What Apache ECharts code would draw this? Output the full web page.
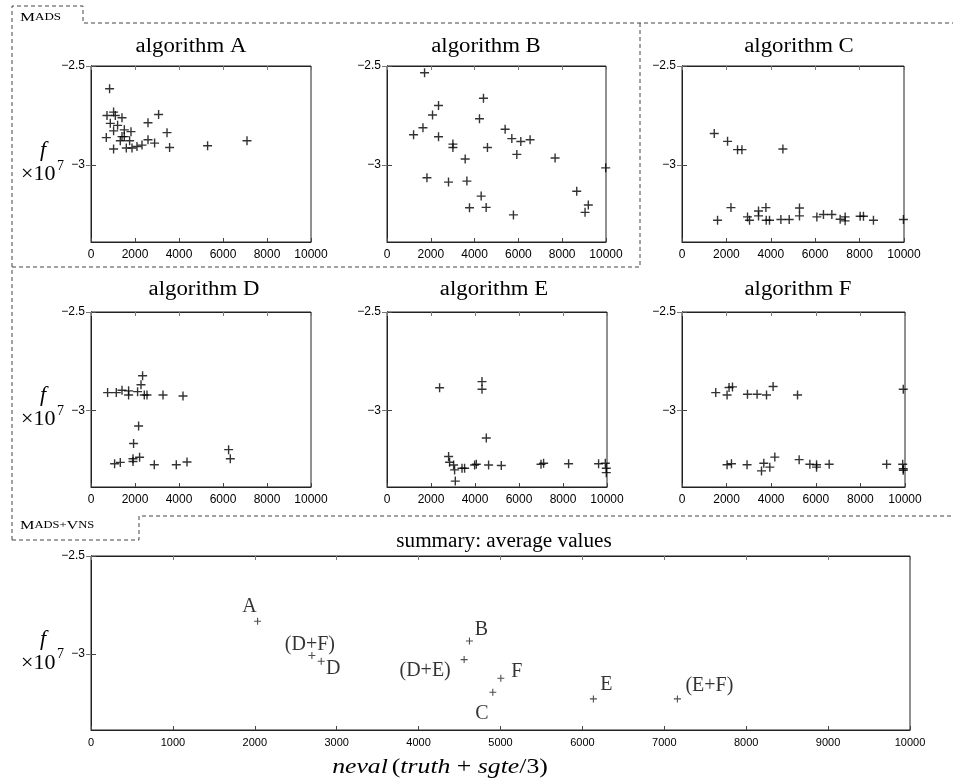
<!DOCTYPE html>
<html>
<head>
<meta charset="utf-8">
<script src="https://cdn.jsdelivr.net/npm/echarts@6/dist/echarts.min.js"></script>
<style>
  html, body { margin: 0; padding: 0; background: #fff; }
  #main { width: 953px; height: 782px; }
</style>
</head>
<body>
<div id="main"></div>
<script>
// tick labels
const smallXTicks = [0, 2000, 4000, 6000, 8000, 10000]
const summaryXTicks = [0, 1000, 2000, 3000, 4000, 5000, 6000, 7000, 8000, 9000, 10000]
const yTicks = [-3, -2.5]

// algorithm A..F: neval vs f (x 1e7)
const algAx = [845, 1027, 727, 1105, 1409, 877, 1209, 1027, 1514, 1818, 695, 1409, 1514, 1332, 1755, 1027, 1605, 1864, 2091, 2318, 2591, 2591, 3073, 2891, 3455, 3573, 5300, 7091]
const algAy = [-2.615, -2.733, -2.75, -2.75, -2.762, -2.79, -2.80, -2.828, -2.823, -2.832, -2.862, -2.857, -2.857, -2.878, -2.878, -2.92, -2.915, -2.915, -2.907, -2.90, -2.787, -2.873, -2.745, -2.89, -2.837, -2.912, -2.903, -2.878]

const algBx = [1715, 4405, 2353, 2079, 4223, 1642, 1213, 2353, 5394, 5700, 6110, 6534, 3010, 3010, 4587, 5928, 3570, 7675, 9986, 1824, 2809, 3648, 4300, 3767, 4528, 5773, 8664, 9193, 9043]
const algBy = [-2.534, -2.663, -2.70, -2.748, -2.767, -2.812, -2.848, -2.858, -2.82, -2.867, -2.882, -2.873, -2.895, -2.912, -2.912, -2.947, -2.97, -2.965, -3.015, -3.065, -3.087, -3.082, -3.158, -3.217, -3.215, -3.253, -3.133, -3.203, -3.24]

const algCx = [1453, 2052, 2502, 2700, 4545, 2205, 1602, 2952, 3042, 3447, 3447, 3780, 3794, 3942, 4455, 4829, 5292, 5292, 6075, 6372, 6750, 7124, 7349, 7349, 8024, 8174, 8624, 9974]
const algCy = [-2.841, -2.881, -2.923, -2.923, -2.92, -3.216, -3.28, -3.263, -3.28, -3.233, -3.258, -3.216, -3.28, -3.28, -3.276, -3.276, -3.218, -3.258, -3.263, -3.251, -3.251, -3.275, -3.263, -3.283, -3.26, -3.26, -3.28, -3.276]

const algDx = [755, 1150, 1409, 1709, 1709, 2118, 2345, 2273, 2423, 2545, 3273, 4182, 2164, 1936, 1073, 1332, 1909, 1909, 2209, 2877, 3877, 4364, 6255, 6332]
const algDy = [-2.910, -2.910, -2.898, -2.901, -2.922, -2.905, -2.824, -2.870, -2.922, -2.922, -2.922, -2.927, -3.080, -3.169, -3.272, -3.265, -3.246, -3.260, -3.239, -3.277, -3.277, -3.263, -3.200, -3.246]

const algEx = [2391, 4318, 4318, 4514, 2800, 2845, 3027, 3073, 3105, 3409, 3527, 3982, 4059, 4618, 5195, 7000, 7118, 8255, 9618, 9923, 9968, 9968]
const algEy = [-2.885, -2.854, -2.893, -3.141, -3.235, -3.264, -3.278, -3.303, -3.360, -3.295, -3.295, -3.278, -3.274, -3.278, -3.281, -3.274, -3.269, -3.272, -3.272, -3.269, -3.295, -3.317]

const algFx = [1513, 2021, 2110, 2263, 2936, 3367, 3790, 4086, 5181, 9923, 2021, 2218, 2918, 3668, 3565, 3938, 4162, 5253, 5734, 6034, 6034, 6600, 9177, 9896, 9923, 9923]
const algFy = [-2.910, -2.922, -2.884, -2.881, -2.918, -2.918, -2.922, -2.879, -2.922, -2.893, -3.277, -3.272, -3.277, -3.269, -3.308, -3.289, -3.238, -3.251, -3.274, -3.277, -3.289, -3.274, -3.274, -3.274, -3.297, -3.305]

// summary: average values
const sumNames = ['A', '(D+F)', 'D', '(D+E)', 'B', 'F', 'C', 'E', '(E+F)']
const sumX = [2034, 2697, 2811, 4556, 4621, 5004, 4906, 6134, 7160]
const sumY = [-2.834, -3.009, -3.038, -3.030, -2.935, -3.125, -3.197, -3.231, -3.231]

// layout
const sumLabelOffset = [[-8, -15], [-2, -11], [12, 8], [-39, 11], [12, -11], [16, -6], [-11, 21], [13, -14], [32, -13]]
const grids = [
  { left: 91, top: 66, width: 220, height: 176 },
  { left: 387, top: 66, width: 219, height: 176 },
  { left: 682, top: 66, width: 222, height: 176 },
  { left: 91, top: 312, width: 220, height: 175 },
  { left: 387, top: 312, width: 220, height: 175 },
  { left: 682, top: 312, width: 223, height: 175 },
  { left: 91, top: 556, width: 819, height: 174 }
]
const titles = [
  ['algorithm A', 191, 47, 1.14], ['algorithm B', 486, 47, 1.14], ['algorithm C', 799, 47, 1.14],
  ['algorithm D', 204, 290, 1.14], ['algorithm E', 494, 290, 1.14], ['algorithm F', 798, 290, 1.14],
  ['summary: average values', 504, 542, 1.06]
]
const YMIN = -3.39
const YMAX = -2.5
const SERIF = 'Liberation Serif'
const SANS = 'Liberation Sans'
const PLUS = 'path://M3.8,0h1.4v9h-1.4z M0,3.8h9v1.4h-9z'

const sets = [[algAx, algAy], [algBx, algBy], [algCx, algCy], [algDx, algDy], [algEx, algEy], [algFx, algFy]]

const xAxis = []
const yAxis = []
const series = []

grids.forEach((g, i) => {
  const isSum = i === 6
  const ticks = isSum ? summaryXTicks : smallXTicks
  xAxis.push({
    gridIndex: i, type: 'value', min: 0, max: 10000,
    axisLine: { show: true, lineStyle: { color: '#222' } },
    axisTick: { inside: true, length: 4, customValues: ticks, lineStyle: { color: '#444' } },
    axisLabel: { customValues: ticks, formatter: v => String(v), color: '#000', fontFamily: SANS, fontSize: isSum ? 11 : 12, margin: 7 },
    splitLine: { show: false }
  })
  xAxis.push({
    gridIndex: i, type: 'value', min: 0, max: 10000, position: 'top',
    axisLine: { show: true, lineStyle: { color: '#222' } },
    axisTick: { inside: true, length: 4, customValues: ticks, lineStyle: { color: '#777' } },
    axisLabel: { show: false },
    splitLine: { show: false }
  })
  yAxis.push({
    gridIndex: i, type: 'value', min: YMIN, max: YMAX,
    axisLine: { show: true, lineStyle: { color: '#222' } },
    axisTick: { inside: true, length: 5, customValues: yTicks, lineStyle: { color: '#444' } },
    axisLabel: { customValues: yTicks, formatter: v => String(v).replace('-', '\u2212'), color: '#000', fontFamily: SANS, fontSize: 12, margin: 6 },
    splitLine: { show: false }
  })
  yAxis.push({
    gridIndex: i, type: 'value', min: YMIN, max: YMAX, position: 'right',
    axisLine: { show: true, lineStyle: { color: '#222' } },
    axisTick: { inside: true, length: 5, customValues: yTicks, lineStyle: { color: '#777' } },
    axisLabel: { show: false },
    splitLine: { show: false }
  })

  if (!isSum) {
    const [xs, ys] = sets[i]
    series.push({
      type: 'scatter', xAxisIndex: i * 2, yAxisIndex: i * 2,
      symbol: PLUS, symbolSize: 9,
      itemStyle: { color: '#000' },
      data: xs.map((x, k) => [x, ys[k]])
    })
  } else {
    series.push({
      type: 'scatter', xAxisIndex: i * 2, yAxisIndex: i * 2,
      symbol: PLUS, symbolSize: 7,
      itemStyle: { color: '#222' },
      label: {
        show: true, position: 'inside', color: '#000',
        fontFamily: SERIF, fontSize: 20,
        formatter: p => sumNames[p.dataIndex]
      },
      data: sumX.map((x, k) => ({ value: [x, sumY[k]], label: { offset: sumLabelOffset[k] } }))
    })
  }
})

const graphic = []
titles.forEach(([t, x, y, sx]) => {
  graphic.push({
    type: 'text', x: x, y: y, scaleX: sx,
    style: { text: t, textAlign: 'center', textVerticalAlign: 'middle', font: '20px "Liberation Serif"', fill: '#000' }
  })
})

// f x10^7 axis names next to the -3 tick
;[0, 3, 6].forEach(i => {
  const g = grids[i]
  const ym3 = g.top + g.height * (YMAX - (-3)) / (YMAX - YMIN)
  graphic.push({ type: 'text', x: 43, y: ym3 - 15, style: { text: 'f', textAlign: 'center', textVerticalAlign: 'middle', font: 'italic 22px "Liberation Serif"', fill: '#000' } })
  graphic.push({ type: 'text', x: 21, y: ym3 + 9, style: { text: '×10', textAlign: 'left', textVerticalAlign: 'middle', font: '22px "Liberation Serif"', fill: '#000' } })
  graphic.push({ type: 'text', x: 57, y: ym3 + 1, style: { text: '7', textAlign: 'left', textVerticalAlign: 'middle', font: '14px "Liberation Serif"', fill: '#000' } })
})

// summary x axis name
graphic.push({
  type: 'text', x: 440, y: 767, scaleX: 1.17,
  style: {
    text: '{i|neval} {n|(}{i|truth}{n| + }{i|sgte}{n|/3)}',
    textAlign: 'center', textVerticalAlign: 'middle', fill: '#000',
    rich: {
      i: { fontFamily: SERIF, fontStyle: 'italic', fontSize: 22, fill: '#000' },
      n: { fontFamily: SERIF, fontSize: 22, fill: '#000' }
    }
  }
})

// dashed group frames
const dash = { stroke: '#444', lineWidth: 1, lineDash: [4, 3], fill: null }
graphic.push({ type: 'polyline', shape: { points: [[12, 540], [12, 6], [83, 6], [83, 23], [953, 23]] }, style: dash, silent: true })
graphic.push({ type: 'polyline', shape: { points: [[640, 23], [640, 267], [12, 267]] }, style: dash, silent: true })
graphic.push({ type: 'polyline', shape: { points: [[12, 540], [139, 540], [139, 516], [953, 516]] }, style: dash, silent: true })

const capsRich = {
  b: { fontFamily: SERIF, fontSize: 13, fill: '#000' },
  s: { fontFamily: SERIF, fontSize: 10, fill: '#000' }
}
graphic.push({ type: 'text', x: 20, y: 24, scaleX: 1.3, style: { text: '{b|M}{s|ADS}', textAlign: 'left', textVerticalAlign: 'bottom', rich: capsRich } })
graphic.push({ type: 'text', x: 20, y: 532, scaleX: 1.25, style: { text: '{b|M}{s|ADS+}{b|V}{s|NS}', textAlign: 'left', textVerticalAlign: 'bottom', rich: capsRich } })

const chart = echarts.init(document.getElementById('main'))
chart.setOption({
  animation: false,
  backgroundColor: '#fff',
  grid: grids.map(g => Object.assign({ show: true, borderColor: '#222', borderWidth: 1, backgroundColor: 'transparent' }, g)),
  xAxis: xAxis,
  yAxis: yAxis,
  series: series,
  graphic: graphic
})
</script>
</body>
</html>
